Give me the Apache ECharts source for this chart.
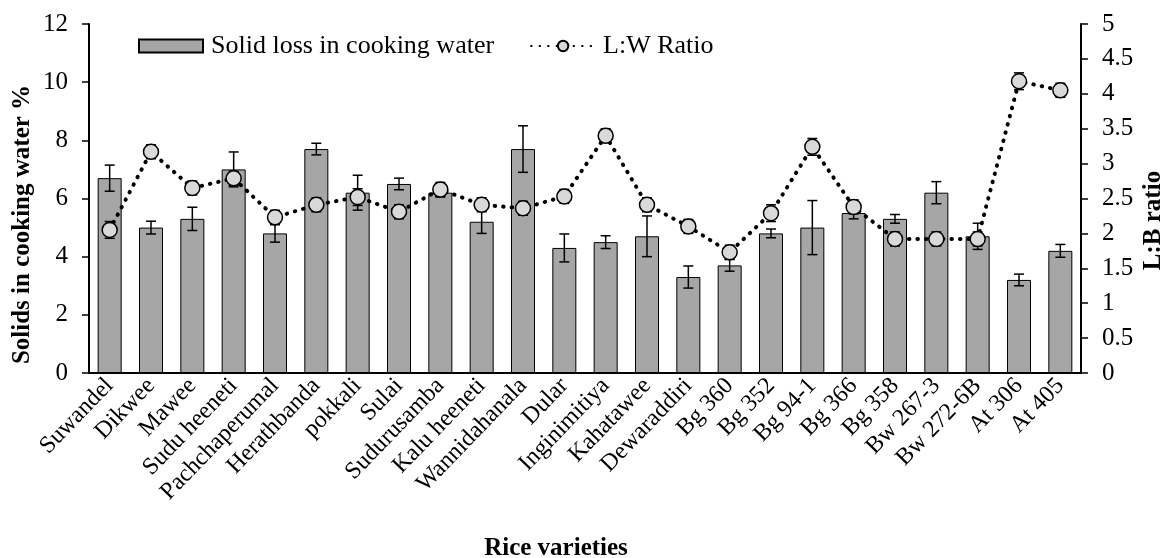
<!DOCTYPE html>
<html>
<head>
<meta charset="utf-8">
<title>Solid loss in cooking water</title>
<script src="https://cdn.jsdelivr.net/npm/echarts@6/dist/echarts.min.js"></script>
<style>
  html, body { margin: 0; padding: 0; background: #fff; }
  #chart { width: 1161px; height: 558px; }
</style>
</head>
<body>
<div id="chart"></div>
<script>
// rice varieties on the x axis
const varieties = ['Suwandel', 'Dikwee', 'Mawee', 'Sudu heeneti', 'Pachchaperumal', 'Herathbanda', 'pokkali', 'Sulai',
  'Sudurusamba', 'Kalu heeneti', 'Wannidahanala', 'Dular', 'Inginimitiya', 'Kahatawee', 'Dewaraddiri', 'Bg 360',
  'Bg 352', 'Bg 94-1', 'Bg 366', 'Bg 358', 'Bw 267-3', 'Bw 272-6B', 'At 306', 'At 405']

// solid loss in cooking water (%) and its error
const solidLoss = [6.7, 5.0, 5.3, 7.0, 4.8, 7.7, 6.2, 6.5, 6.2, 5.2, 7.7, 4.3, 4.5, 4.7, 3.3, 3.7, 4.8, 5.0, 5.5, 5.3, 6.2, 4.7, 3.2, 4.2]
const solidLossErr = [0.45, 0.22, 0.4, 0.6, 0.3, 0.2, 0.6, 0.2, 0.15, 0.4, 0.8, 0.48, 0.22, 0.7, 0.38, 0.2, 0.15, 0.93, 0.2, 0.15, 0.38, 0.45, 0.2, 0.22]

// L:W ratio and its error
const lwRatio = [2.05, 3.17, 2.65, 2.79, 2.23, 2.41, 2.52, 2.31, 2.63, 2.41, 2.36, 2.53, 3.4, 2.41, 2.1, 1.73, 2.29, 3.24, 2.38, 1.92, 1.92, 1.92, 4.18, 4.05]
const lwRatioErr = [0.12, 0.1, 0.1, 0.1, 0.1, 0.1, 0.12, 0.1, 0.1, 0.1, 0.1, 0.1, 0.1, 0.1, 0.1, 0.1, 0.12, 0.12, 0.1, 0.1, 0.1, 0.1, 0.12, 0.1]

const FONT = '"Liberation Serif", "DejaVu Serif", serif'

const errData = (vals, errs) => vals.map((v, i) => [i, v - errs[i], v + errs[i]])

// error bar drawn through the axis scales
const errorBar = (capHalf) => (params, api) => {
  const x = api.value(0)
  const lo = api.coord([x, api.value(1)])
  const hi = api.coord([x, api.value(2)])
  const style = {stroke: '#000', lineWidth: 1.5, fill: null}
  return {
    type: 'group',
    children: [
      {type: 'line', shape: {x1: lo[0], y1: lo[1], x2: hi[0], y2: hi[1]}, style},
      {type: 'line', shape: {x1: hi[0] - capHalf, y1: hi[1], x2: hi[0] + capHalf, y2: hi[1]}, style},
      {type: 'line', shape: {x1: lo[0] - capHalf, y1: lo[1], x2: lo[0] + capHalf, y2: lo[1]}, style}
    ]
  }
}

const chart = echarts.init(document.getElementById('chart'))

const option = {
  animation: false,
  textStyle: {fontFamily: FONT, color: '#000'},
  grid: {left: 89, right: 80, top: 24, bottom: 185, outerBoundsMode: 'none', containLabel: false},
  legend: {
    left: 133,
    top: 28,
    itemGap: 36,
    itemWidth: 64,
    itemHeight: 13,
    textStyle: {fontFamily: FONT, fontSize: 26, color: '#000', padding: [0, 0, 0, 3]},
    data: [
      {name: 'Solid loss in cooking water', icon: 'rect'},
      {name: 'L:W Ratio'}
    ]
  },
  xAxis: {
    type: 'category',
    data: varieties,
    name: 'Rice varieties',
    nameLocation: 'middle',
    nameGap: 163,
    nameMoveOverlap: false,
    nameTextStyle: {fontFamily: FONT, fontSize: 25, fontWeight: 'bold', color: '#000', padding: [0, 58, 0, 0]},
    axisLine: {lineStyle: {color: '#000', width: 2}},
    axisTick: {show: false},
    axisLabel: {
      rotate: 46,
      interval: 0,
      margin: 9,
      fontFamily: FONT,
      fontSize: 24,
      color: '#000'
    }
  },
  yAxis: [
    {
      type: 'value',
      min: 0,
      max: 12,
      interval: 2,
      name: 'Solids in cooking water %',
      nameLocation: 'middle',
      nameGap: 54,
      nameMoveOverlap: false,
      nameTextStyle: {fontFamily: FONT, fontSize: 25, fontWeight: 'bold', color: '#000', padding: [0, 52, 0, 0]},
      axisLine: {show: true, lineStyle: {color: '#000', width: 2}},
      axisTick: {show: true, length: 7, lineStyle: {color: '#000', width: 1.5}},
      splitLine: {show: false},
      axisLabel: {fontFamily: FONT, fontSize: 25, color: '#000', margin: 21}
    },
    {
      type: 'value',
      min: 0,
      max: 5,
      interval: 0.5,
      name: 'L:B ratio',
      nameLocation: 'middle',
      nameGap: 60,
      nameRotate: 90,
      nameMoveOverlap: false,
      nameTextStyle: {fontFamily: FONT, fontSize: 25, fontWeight: 'bold', color: '#000', padding: [0, 44, 0, 0]},
      axisLine: {show: true, lineStyle: {color: '#000', width: 2}},
      axisTick: {show: true, length: 7, lineStyle: {color: '#000', width: 1.5}},
      splitLine: {show: false},
      axisLabel: {fontFamily: FONT, fontSize: 25, color: '#000', margin: 21}
    }
  ],
  series: [
    {
      name: 'Solid loss in cooking water',
      type: 'bar',
      data: solidLoss,
      barWidth: 24,
      itemStyle: {color: '#a6a6a6', borderColor: '#000', borderWidth: 1},
      z: 2
    },
    {
      name: 'solidErr',
      type: 'custom',
      data: errData(solidLoss, solidLossErr),
      renderItem: errorBar(5),
      encode: {x: 0, y: [1, 2]},
      z: 3,
      silent: true
    },
    {
      name: 'lwErr',
      type: 'custom',
      yAxisIndex: 1,
      data: errData(lwRatio, lwRatioErr),
      renderItem: errorBar(5),
      encode: {x: 0, y: [1, 2]},
      z: 4,
      silent: true
    },
    {
      name: 'L:W Ratio',
      type: 'line',
      yAxisIndex: 1,
      data: lwRatio,
      symbol: 'circle',
      symbolSize: 15,
      lineStyle: {color: '#000', width: 4, type: [0.5, 8], cap: 'round'},
      itemStyle: {color: '#d9d9d9', borderColor: '#000', borderWidth: 1.5},
      z: 5
    }
  ]
}

chart.setOption(option)
</script>
</body>
</html>
